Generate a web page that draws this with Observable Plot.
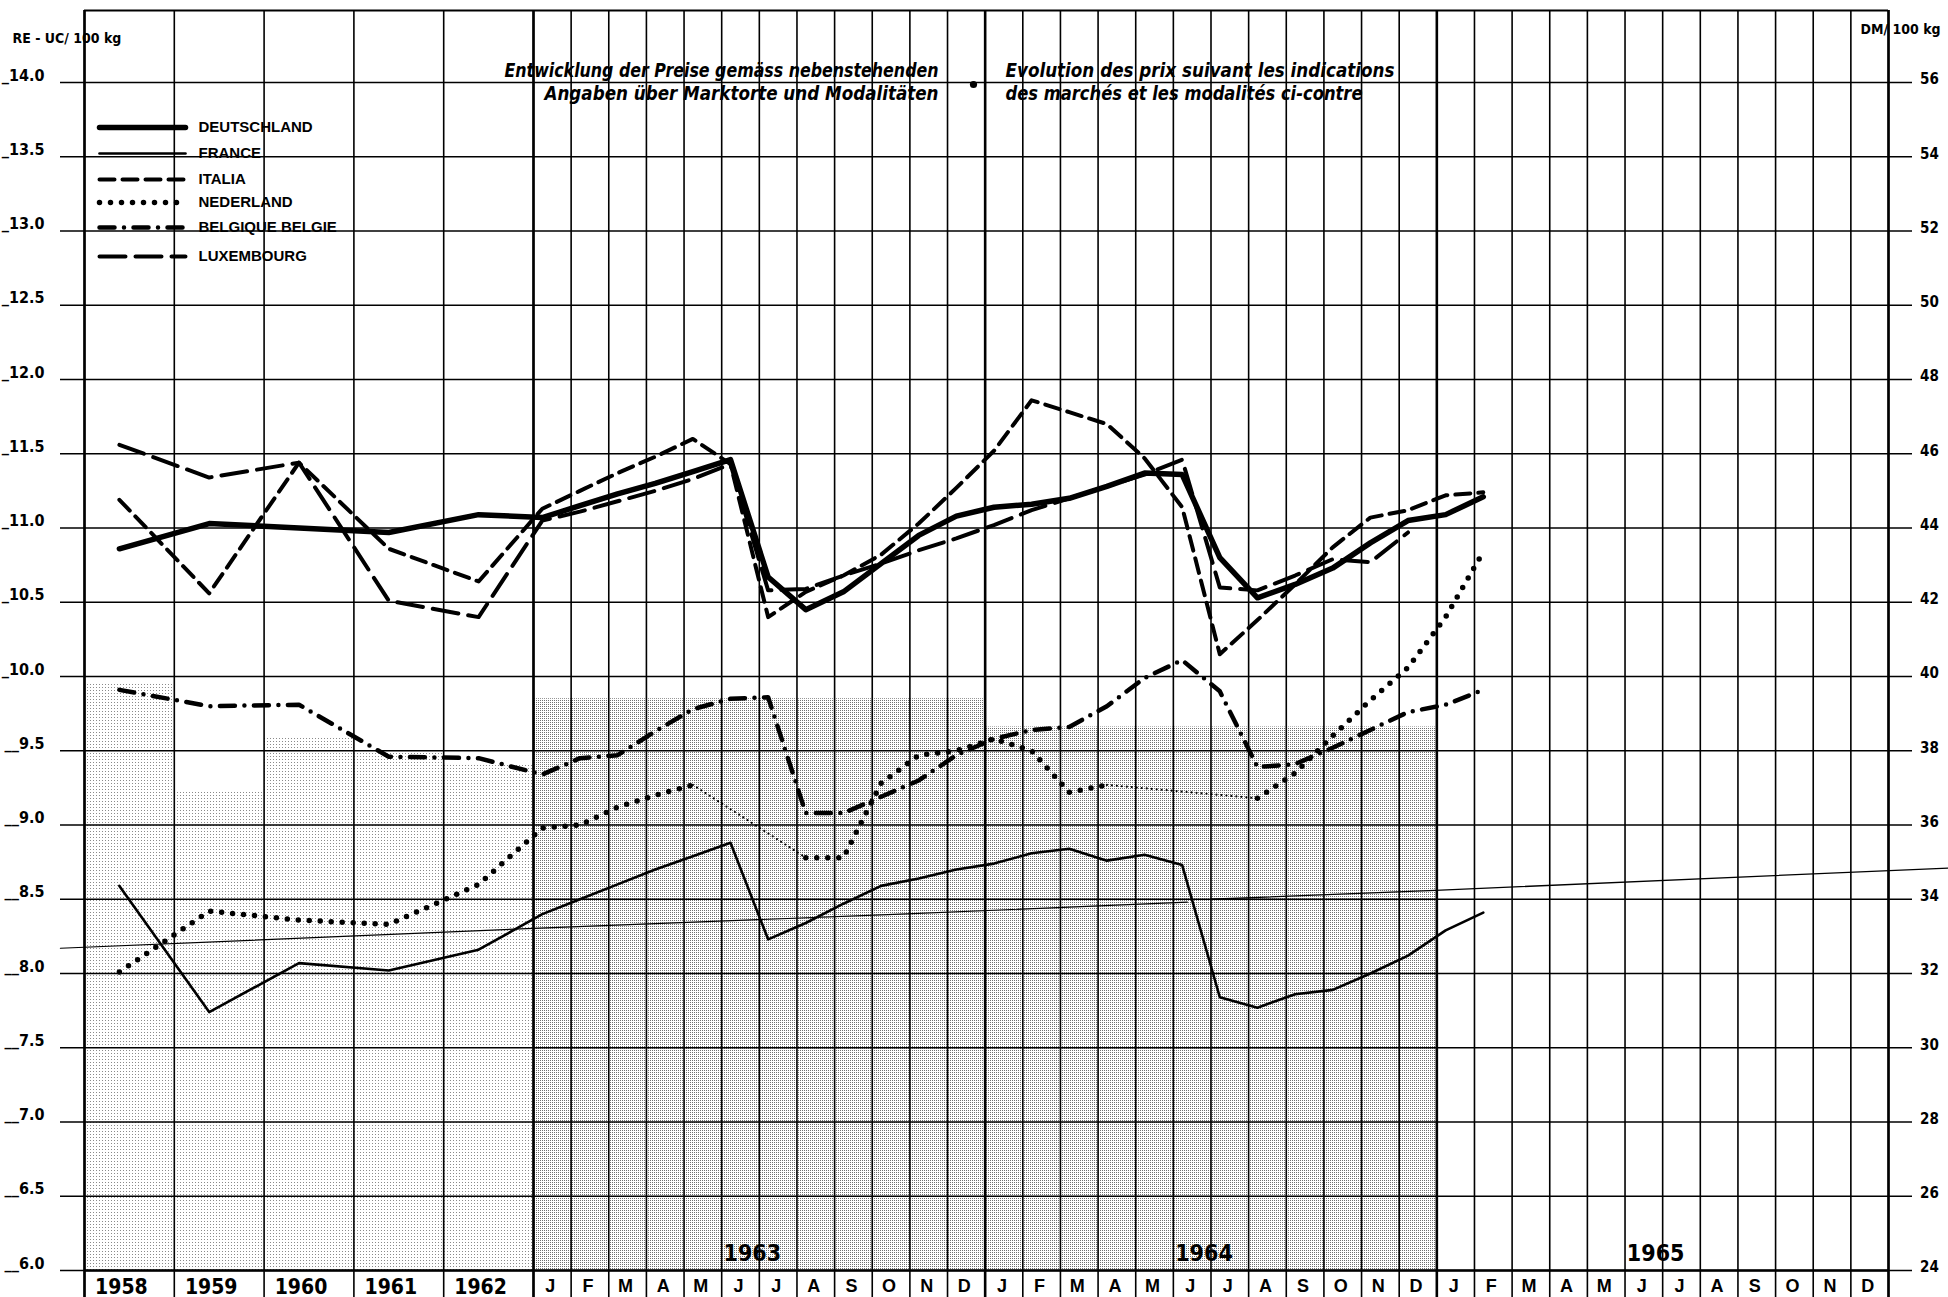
<!DOCTYPE html>
<html><head><meta charset="utf-8">
<script src="https://cdn.jsdelivr.net/npm/d3@7"></script>
<script src="https://cdn.jsdelivr.net/npm/@observablehq/plot@0.6"></script>
<style>
html,body{margin:0;padding:0;background:#fff;}
#chart{position:relative;width:1948px;height:1297px;overflow:hidden;}
</style></head><body><div id="chart"></div>
<script>
// ---------- data ----------
const years = ["1958", "1959", "1960", "1961", "1962"];
const monthLetters = ["J","F","M","A","M","J","J","A","S","O","N","D"];
const monthYears = ["1963", "1964", "1965"];
const reTicks = [6.0,6.5,7.0,7.5,8.0,8.5,9.0,9.5,10.0,10.5,11.0,11.5,12.0,12.5,13.0,13.5,14.0];
const dmTicks = [24,26,28,30,32,34,36,38,40,42,44,46,48,50,52,54,56];
// values: 1958..1962 (annual), then Jan 1963 .. Feb 1965 (monthly); RE-UC / 100 kg
const deutschland = [10.86, 11.03, 11.00, 10.97, 11.09,
  11.07, 11.15, 11.23, 11.30, 11.38, 11.46, 10.67, 10.45, 10.57, 10.76, 10.95, 11.08,
  11.14, 11.16, 11.20, 11.28, 11.37, 11.36, 10.80, 10.53, 10.62, 10.73, 10.90, 11.05,
  11.09, 11.21];
const france = [8.59, 7.74, 8.07, 8.02, 8.16,
  8.40, 8.50, 8.60, 8.70, 8.79, 8.88, 8.23, 8.34, 8.47, 8.59, 8.64, 8.70,
  8.74, 8.81, 8.84, 8.76, 8.80, 8.73, 7.84, 7.77, 7.86, 7.89, 8.00, 8.12,
  8.29, 8.41];
const italia = [11.19, 10.56, 11.44, 10.86, 10.64,
  11.13, 11.25, 11.37, 11.48, 11.60, 11.43, 10.40, 10.57, 10.68, 10.82, 11.03, 11.27,
  11.52, 11.86, 11.78, 11.70, 11.47, 11.14, 10.15, 10.38, 10.62, 10.87, 11.07, 11.12,
  11.22, 11.24];
const nederland = [8.01, 8.42, 8.36, 8.33, 8.60,
  8.98, 9.00, 9.12, 9.20, 9.27, null, null, 8.78, 8.78, 9.28, 9.47, 9.50,
  9.58, 9.50, 9.22, 9.27, null, null, null, 9.18, 9.35, 9.60, 9.84, 10.06,
  10.40, 10.84];
const belgique = [9.91, 9.80, 9.81, 9.46, 9.45,
  9.34, 9.45, 9.47, 9.63, 9.78, 9.85, 9.86, 9.08, 9.08, 9.19, 9.30, 9.47,
  9.58, 9.64, 9.66, 9.80, 9.99, 10.11, 9.90, 9.39, 9.41, 9.52, 9.64, 9.76,
  9.81, 9.91];
const luxembourg = [11.56, 11.34, 11.44, 10.51, 10.40,
  11.05, 11.11, 11.18, 11.25, 11.33, 11.43, 10.58, 10.59, 10.68, 10.76, 10.85, 10.93,
  11.02, 11.12, 11.20, 11.28, 11.36, 11.46, 10.60, 10.58, 10.68, 10.79, 10.77, 10.97,
  null, null];
// stippled background levels: per year 1958..1962, then 1963, 1964
const shadeYears = [9.95, 9.22, 9.59, 9.50, 9.41];
const shadeMonthYears = [9.85, 9.66];
// thin reference line (x in column units, value)
const refLineA = [[-0.64, 8.17], [11.58, 8.30], [21.68, 8.40], [29.30, 8.48]];
const refLineB = [[29.92, 8.50], [35.89, 8.56], [49.52, 8.71]];

// ---------- layout ----------
const W = 1948, H = 1297, mL = 84, mR = 60, mT = 82, mB = 27;
const YW = 2.3858;            // width of an annual column in month-column units
const NY = years.length;
const XMAX = NY * YW + 36;
const SHIFT = -0.266;         // curves printed slightly left of column centres
const colX = i => i < NY ? (i + 0.5) * YW + SHIFT : NY * YW + (i - NY) + 0.5 + SHIFT;
const pxX = p => (p - mL) / ((W - mL - mR) / XMAX);
const pxY = p => 14 - (p - mT) / ((H - mT - mB) / 8);

function rows(arr) { return arr.map((v, i) => ({t: colX(i), v})); }
function gapLinks(arr) {
  const out = []; let g = 0;
  for (let i = 1; i < arr.length; i++) {
    if (arr[i] == null && arr[i-1] != null) {
      let j = i; while (j < arr.length && arr[j] == null) j++;
      if (j < arr.length) { out.push({t: colX(i-1), v: arr[i-1], g}); out.push({t: colX(j), v: arr[j], g}); g++; }
    }
  }
  return out;
}

const styles = {
  DEUTSCHLAND: {strokeWidth: 5.5},
  FRANCE: {strokeWidth: 2.6},
  ITALIA: {strokeWidth: 4, strokeDasharray: "15,8"},
  NEDERLAND: {strokeWidth: 5.5, strokeDasharray: "0,11", strokeLinecap: "round"},
  "BELGIQUE BELGIE": {strokeWidth: 4.5, strokeDasharray: "15,9.5,0,9.5", strokeLinecap: "round"},
  LUXEMBOURG: {strokeWidth: 4, strokeDasharray: "26,10"}
};
const series = [["DEUTSCHLAND", deutschland], ["FRANCE", france], ["ITALIA", italia],
  ["NEDERLAND", nederland], ["BELGIQUE BELGIE", belgique], ["LUXEMBOURG", luxembourg]];

const yearBounds = d3.range(NY + 1).map(i => i * YW);
const monthBounds = d3.range(1, 37).map(k => NY * YW + k);
const heavyBounds = [0, NY * YW, NY * YW + 12, NY * YW + 24, XMAX];

const shadeRects = [
  ...shadeYears.map((v, i) => ({x1: i * YW, x2: (i + 1) * YW, y2: v, f: "url(#stipLight)"})),
  ...shadeMonthYears.map((v, j) => ({x1: NY * YW + 12 * j, x2: NY * YW + 12 * (j + 1), y2: v, f: "url(#stipDense)"}))
];

const legendRowsY = [127, 153, 179, 202, 227, 256];
const legendX1 = pxX(99), legendX2 = pxX(185), legendTX = pxX(198);

const NUMFONT = "'Liberation Sans Narrow','DejaVu Sans Condensed','Liberation Sans',sans-serif";
const BOLDFONT = "'Liberation Sans','DejaVu Sans',sans-serif";

const marks = [
  Plot.rect(shadeRects, {x1: "x1", x2: "x2", y1: 6, y2: "y2", fill: d => d.f}),
  // horizontal grid
  Plot.ruleY(reTicks, {stroke: "black", strokeWidth: 1.4, insetLeft: -24, insetRight: -24}),
  Plot.ruleY([6], {stroke: "black", strokeWidth: 2.4}),
  Plot.ruleY([14], {stroke: "black", strokeWidth: 2.2, dy: -72}),
  // vertical grid
  Plot.ruleX([...yearBounds, ...monthBounds], {stroke: "black", strokeWidth: 1.6, insetTop: -72, insetBottom: -30}),
  Plot.ruleX(heavyBounds, {stroke: "black", strokeWidth: 2.6, insetTop: -72, insetBottom: -30}),
  // thin reference line
  Plot.line(refLineA, {x: d => d[0], y: d => d[1], stroke: "black", strokeWidth: 1.2, clip: false}),
  Plot.line(refLineB, {x: d => d[0], y: d => d[1], stroke: "black", strokeWidth: 1.3, clip: false}),
];
for (const [name, arr] of series) {
  marks.push(Plot.line(rows(arr), {x: "t", y: "v", stroke: "black", ...styles[name]}));
}
marks.push(Plot.line(gapLinks(nederland), {x: "t", y: "v", z: "g", stroke: "black", strokeWidth: 2.2, strokeDasharray: "0,5", strokeLinecap: "round"}));

// legend
series.forEach(([name], i) => {
  const y = pxY(legendRowsY[i]);
  marks.push(Plot.line([{t: legendX1, v: y}, {t: legendX2, v: y}], {x: "t", y: "v", stroke: "black", ...styles[name]}));
});
marks.push(Plot.text(series.map(s => s[0]), {
  x: legendTX, y: (d, i) => pxY(legendRowsY[i]), text: d => d, textAnchor: "start", lineAnchor: "middle",
  fontSize: 15, fontWeight: "bold", fontFamily: BOLDFONT, letterSpacing: "1px", fill: "black"}));

// axis labels
marks.push(Plot.text(reTicks, {y: d => d, text: d => (d >= 10 ? "_" : "__") + d.toFixed(1),
  frameAnchor: "left", dx: -40, dy: -2, textAnchor: "end", lineAnchor: "bottom",
  fontSize: 16, fontWeight: "bold", fontFamily: NUMFONT, fill: "black"}));
marks.push(Plot.text(dmTicks, {y: d => d / 4, text: d => String(d),
  frameAnchor: "right", dx: 41, dy: -3, textAnchor: "middle", lineAnchor: "middle",
  fontSize: 15, fontWeight: "bold", fontFamily: NUMFONT, fill: "black"}));
marks.push(Plot.text(["RE - UC/ 100 kg"], {frameAnchor: "top-left", dx: -72, dy: -40, textAnchor: "start", lineAnchor: "bottom",
  fontSize: 14, fontWeight: "bold", fontFamily: NUMFONT, fill: "black"}));
marks.push(Plot.text(["DM/ 100 kg"], {frameAnchor: "top-right", dx: -28, dy: -49, textAnchor: "start", lineAnchor: "bottom",
  fontSize: 14, fontWeight: "bold", fontFamily: NUMFONT, fill: "black"}));
// bottom label row
marks.push(Plot.text(years, {x: (d, i) => (i + 0.5) * YW, frameAnchor: "bottom", dx: -8, dy: 23, lineAnchor: "bottom",
  fontSize: 21, fontWeight: "bold", fontFamily: NUMFONT, fill: "black"}));
const monthCells = d3.range(36).map(k => ({k, s: monthLetters[k % 12]}));
marks.push(Plot.text(monthCells, {x: d => NY * YW + d.k + 0.5, text: "s", frameAnchor: "bottom", dx: -2, dy: 21, lineAnchor: "bottom",
  fontSize: 18, fontWeight: "bold", fontFamily: BOLDFONT, fill: "black"}));
marks.push(Plot.text(monthYears, {x: (d, i) => NY * YW + 12 * i + 6, frameAnchor: "bottom", dx: -7, dy: -10, lineAnchor: "bottom",
  fontSize: 23, fontWeight: "bold", fontFamily: NUMFONT, fill: "black"}));
// titles
const TFONT = "'DejaVu Sans Condensed','Liberation Sans Narrow','DejaVu Sans',sans-serif";
const titleL = ["Entwicklung der Preise gemäss nebenstehenden", "Angaben über Marktorte und Modalitäten"];
const titleR = ["Evolution des prix suivant les indications", "des marchés et les modalités ci-contre"];
const titleBase = [76, 99];
marks.push(Plot.text(titleL, {x: pxX(938), y: (d, i) => pxY(titleBase[i]), textAnchor: "end", lineAnchor: "bottom",
  fontSize: 19, fontStyle: "italic", fontWeight: "bold", fontFamily: TFONT, fill: "black", className: "ttl-left"}));
marks.push(Plot.text(titleR, {x: pxX(1005), y: (d, i) => pxY(titleBase[i]), textAnchor: "start", lineAnchor: "bottom",
  fontSize: 19, fontStyle: "italic", fontWeight: "bold", fontFamily: TFONT, fill: "black", className: "ttl-right"}));
marks.push(Plot.dot([0], {x: pxX(973), y: pxY(84), r: 3.6, fill: "black", stroke: "none"}));

const chart = Plot.plot({
  width: W, height: H,
  marginLeft: mL, marginRight: mR, marginTop: mT, marginBottom: mB,
  x: {domain: [0, XMAX], axis: null},
  y: {domain: [6, 14], axis: null},
  style: {background: "white", overflow: "visible"},
  marks
});

// stipple patterns
const ns = "http://www.w3.org/2000/svg";
const defs = document.createElementNS(ns, "defs");
defs.innerHTML = `
<pattern id="stipLight" width="3" height="3" patternUnits="userSpaceOnUse">
  <rect width="3" height="3" fill="#ffffff"/><rect x="0" y="0" width="1" height="1" fill="#8a8a8a"/>
</pattern>
<pattern id="stipDense" width="2" height="2" patternUnits="userSpaceOnUse">
  <rect width="2" height="2" fill="#ffffff"/><rect x="0" y="0" width="1" height="1" fill="#707070"/>
</pattern>`;
chart.insertBefore(defs, chart.firstChild);
document.getElementById("chart").appendChild(chart);

// fit title lines to the widths they occupy in the original
function fitTitles(cls, widths) {
  const g = chart.querySelector("." + cls);
  if (!g) return;
  g.querySelectorAll("text").forEach((t, i) => {
    t.setAttribute("textLength", widths[i]);
    t.setAttribute("lengthAdjust", "spacingAndGlyphs");
  });
}
fitTitles("ttl-left", [434, 394]);
fitTitles("ttl-right", [389, 357]);
</script></body></html>
